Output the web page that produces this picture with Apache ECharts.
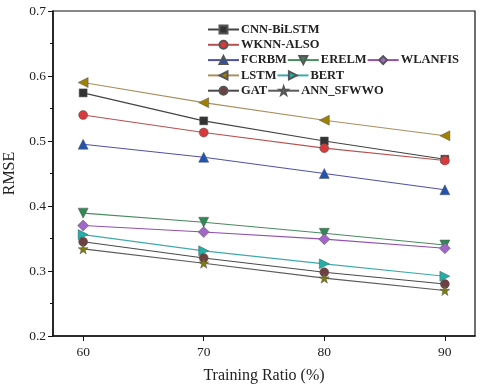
<!DOCTYPE html>
<html>
<head>
<meta charset="utf-8">
<script src="https://cdn.jsdelivr.net/npm/echarts@6/dist/echarts.min.js"></script>
<style>html,body{margin:0;padding:0;background:#fff}#c{width:480px;height:390px}</style>
</head>
<body>
<div id="c"></div>
<script>
const ratios = [60, 70, 80, 90];
const xTicks = [60, 70, 80, 90];
const cnnBiLSTM = [0.574, 0.531, 0.500, 0.472];
const wknnAlso = [0.540, 0.513, 0.489, 0.470];
const fcrbm = [0.495, 0.475, 0.450, 0.425];
const erelm = [0.389, 0.375, 0.358, 0.340];
const wlanfis = [0.370, 0.360, 0.349, 0.335];
const lstm = [0.590, 0.559, 0.532, 0.508];
const bert = [0.356, 0.331, 0.311, 0.292];
const gat = [0.345, 0.320, 0.298, 0.280];
const annSfwwo = [0.334, 0.312, 0.289, 0.270];

const serif = 'Liberation Serif, Times New Roman, serif';
function mk(name, vals, color, lineColor, symbol, rotate, size) {
  return {
    name: name, type: 'line', data: ratios.map((r, i) => [r, vals[i]]),
    symbol: symbol, symbolSize: size || 9, symbolRotate: rotate || 0,
    showAllSymbol: true,
    lineStyle: { color: lineColor, width: 1.1 },
    itemStyle: { color: color, borderColor: '#555', borderWidth: 0.5 },
    emphasis: { disabled: true }
  };
}
const series = [
  mk('CNN-BiLSTM', cnnBiLSTM, '#333333', '#444444', 'rect', 0, 8),
  mk('WKNN-ALSO', wknnAlso, '#d63a3a', '#b85050', 'circle', 0, 9),
  mk('FCRBM', fcrbm, '#1f55b0', '#5050a8', 'triangle', 0, 10),
  mk('ERELM', erelm, '#2f8a55', '#4a8a60', 'triangle', 180, 10),
  mk('WLANFIS', wlanfis, '#a066c8', '#9050b0', 'diamond', 0, 11),
  mk('LSTM', lstm, '#a08000', '#a89060', 'triangle', 90, 10),
  mk('BERT', bert, '#20b0aa', '#40aaaa', 'triangle', -90, 10),
  mk('GAT', gat, '#6e4040', '#4a4a4a', 'circle', 0, 9),
  mk('ANN_SFWWO', annSfwwo, '#7d7a10', '#5a5a5a', 'path://M0,-10 L2.35,-3.2 L9.5,-3.1 L3.8,1.2 L5.9,8.1 L0,4 L-5.9,8.1 L-3.8,1.2 L-9.5,-3.1 L-2.35,-3.2 Z', 0, 10)
];
const rows = [['CNN-BiLSTM'], ['WKNN-ALSO'], ['FCRBM', 'ERELM', 'WLANFIS'], ['LSTM', 'BERT'], ['GAT', 'ANN_SFWWO']];
const legends = rows.map((r, i) => ({
  data: r, left: 207, top: 23 + i * 15.3, orient: 'horizontal',
  itemWidth: 31, itemHeight: 10, itemGap: 0, padding: 0,
  selectedMode: false,
  textStyle: { fontFamily: serif, fontSize: 12.5, fontWeight: 'bold', color: '#222', padding: [0, 0, 0, -3] }
}));

const chart = echarts.init(document.getElementById('c'), null, { renderer: 'canvas' });
chart.setOption({
  animation: false,
  backgroundColor: '#fff',
  legend: legends,
  grid: { left: 53, right: 5, top: 11, bottom: 54, show: true, borderColor: '#111', borderWidth: 1.2,
          containLabel: false, outerBoundsMode: 'none' },
  xAxis: {
    type: 'value', min: 57.5, max: 92.5,
    name: 'Training Ratio (%)', nameLocation: 'middle', nameGap: 32,
    nameTextStyle: { fontFamily: serif, fontSize: 16, color: '#222' },
    axisLine: { lineStyle: { color: '#111', width: 1.5 } },
    axisTick: { show: true, customValues: xTicks, length: 5, lineStyle: { color: '#111' } },
    axisLabel: { customValues: xTicks, fontFamily: serif, fontSize: 13.5, color: '#222', margin: 9 },
    splitLine: { show: false }
  },
  yAxis: {
    type: 'value', min: 0.2, max: 0.7, interval: 0.1,
    name: 'RMSE', nameLocation: 'middle', nameGap: 28,
    nameTextStyle: { fontFamily: serif, fontSize: 16, color: '#222' },
    axisLine: { show: true, lineStyle: { color: '#111', width: 1.5 } },
    axisTick: { show: true, length: 5, lineStyle: { color: '#111' } },
    minorTick: { show: true, splitNumber: 2, length: 3, lineStyle: { color: '#111' } },
    axisLabel: { fontFamily: serif, fontSize: 13.5, color: '#222', margin: 7, formatter: v => v.toFixed(1) },
    splitLine: { show: false }
  },
  series: series
});
</script>
</body>
</html>
